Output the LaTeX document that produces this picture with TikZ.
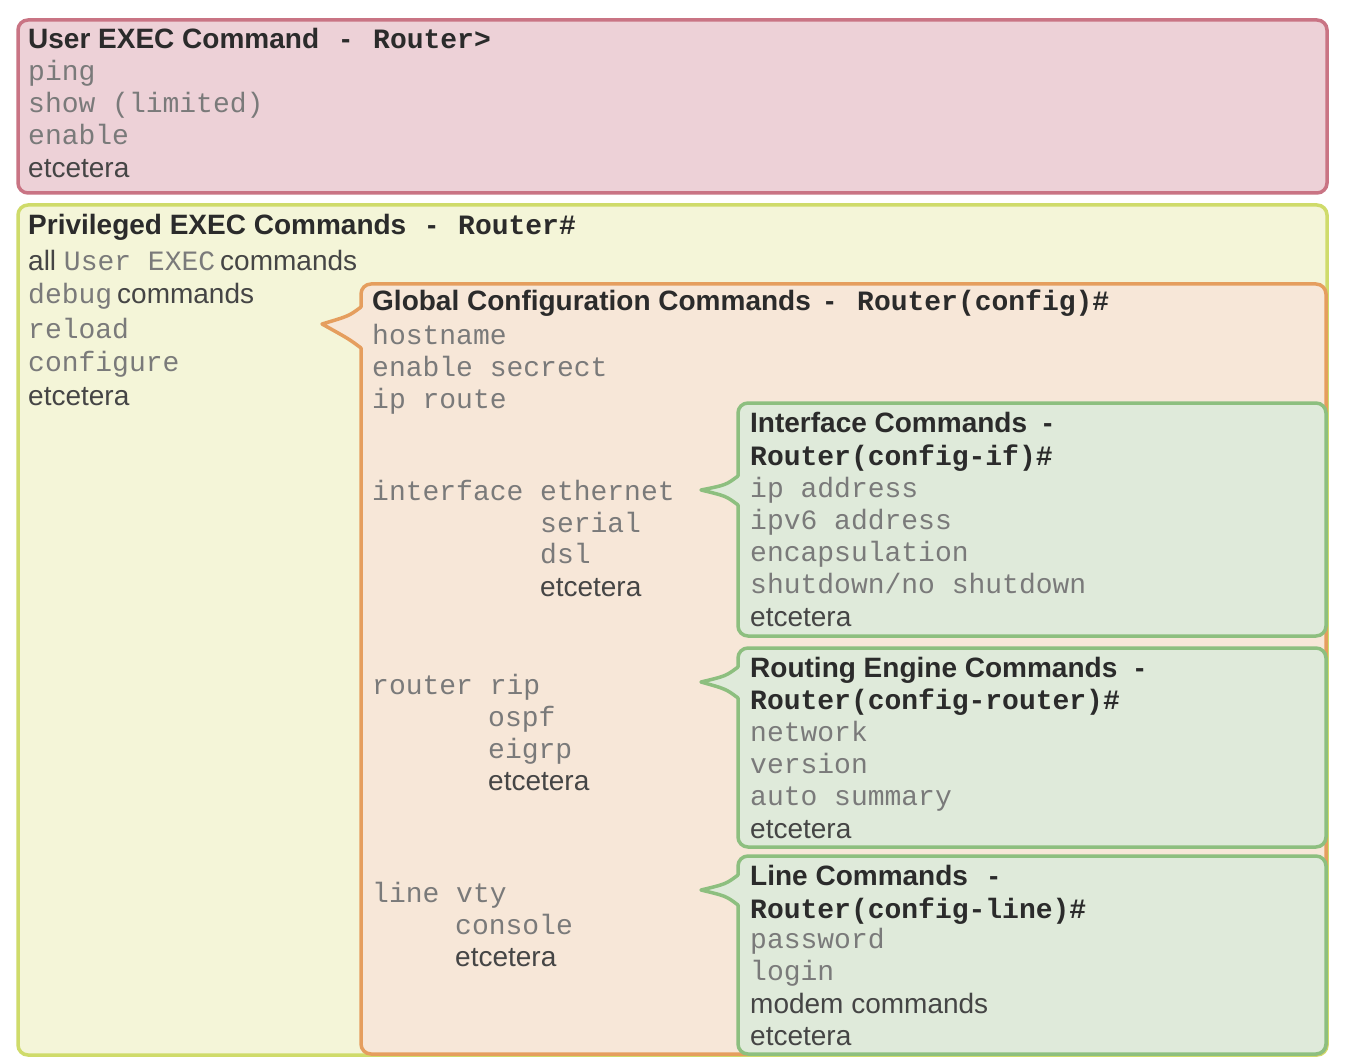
\documentclass[tikz,border=0pt]{standalone}
\usepackage{fontspec}
\setmainfont{Liberation Sans}
\setmonofont{Liberation Mono}
\definecolor{pinkfill}{HTML}{EDD1D7}
\definecolor{pinkdraw}{HTML}{C97484}
\definecolor{yelfill}{HTML}{F4F5D8}
\definecolor{yeldraw}{HTML}{CFDB6A}
\definecolor{orfill}{HTML}{F7E7D8}
\definecolor{ordraw}{HTML}{E59E5E}
\definecolor{grfill}{HTML}{DFEADA}
\definecolor{grdraw}{HTML}{8DBF7F}
\definecolor{hdcol}{HTML}{2B2B2B}
\definecolor{cmcol}{HTML}{7A7A7A}
\definecolor{etcol}{HTML}{454545}
\newcommand\callptr[7]{%
  \fill[#1] (#3+2.5,#4) .. controls (#3-12,#4+9) .. (#6,#7) .. controls (#3-12,#5-9) .. (#3+2.5,#5) -- cycle;
  \draw[#2, line width=3.5, line join=round] (#3,#4) .. controls (#3-12,#4+9) .. (#6,#7) .. controls (#3-12,#5-9) .. (#3,#5);
}
\begin{document}
\begin{tikzpicture}[x=1pt,y=-1pt,
  boxstyle/.style={line width=3.5, rounded corners=10},
  hdtxt/.style={anchor=base west, inner sep=0, font=\fontsize{28}{32}\selectfont\bfseries, text=hdcol},
  rttxt/.style={anchor=base west, inner sep=0, font=\fontsize{28}{32}\selectfont\ttfamily\bfseries, text=hdcol},
  cmtxt/.style={anchor=base west, inner sep=0, font=\fontsize{28}{32}\selectfont\ttfamily, text=cmcol},
  ettxt/.style={anchor=base west, inner sep=0, font=\fontsize{28}{32}\selectfont, text=etcol}]
\useasboundingbox[fill=white] (0,0) rectangle (1348,1064);

% User EXEC box
\draw[boxstyle, fill=pinkfill, draw=pinkdraw] (18,20) rectangle (1327,193);
\node[hdtxt] (u0) at (28,49) {User EXEC Command};
\node[hdtxt] (u0d) at (341,49) {-};
\node[rttxt] (u0r) at (373,49) {Router>};
\node[cmtxt] (u1) at (28,81) {ping};
\node[cmtxt] (u2) at (28,113) {show (limited)};
\node[cmtxt] (u3) at (28,145) {enable};
\node[ettxt] (u4) at (28,178) {etcetera};

% Privileged EXEC box
\draw[boxstyle, fill=yelfill, draw=yeldraw] (18,205) rectangle (1327,1055);
\node[hdtxt] (p0) at (28,235) {Privileged EXEC Commands};
\node[hdtxt] (p0d) at (427,235) {-};
\node[rttxt] (p0r) at (458,235) {Router\#};
\node[ettxt] (p1) at (28,271) {all \texttt{\color{cmcol}User EXEC}\kern5pt commands};
\node[ettxt] (p2) at (28,304) {\texttt{\color{cmcol}debug}\kern5pt commands};
\node[cmtxt] (p3) at (28,338) {reload};
\node[cmtxt] (p4) at (28,371) {configure};
\node[ettxt] (p5) at (28,405) {etcetera};

% Global configuration box
\draw[boxstyle, fill=orfill, draw=ordraw] (361,284) rectangle (1326,1054);
\callptr{orfill}{ordraw}{361}{307}{348}{322}{324}
\node[hdtxt] (g0) at (372,311) {Global Configuration Commands};
\node[hdtxt] (g0d) at (825,311) {-};
\node[rttxt] (g0r) at (857,311) {Router(config)\#};
\node[cmtxt] (g1) at (372,344) {hostname};
\node[cmtxt] (g2) at (372,376) {enable secrect};
\node[cmtxt] (g3) at (372,408) {ip route};
\node[cmtxt] (g4) at (372,500) {interface ethernet};
\node[cmtxt] (g5) at (540,532) {serial};
\node[cmtxt] (g6) at (540,563) {dsl};
\node[ettxt] (g7) at (540,596) {etcetera};
\node[cmtxt] (g8) at (372,694) {router rip};
\node[cmtxt] (g9) at (488,726) {ospf};
\node[cmtxt] (g10) at (488,758) {eigrp};
\node[ettxt] (g11) at (488,790) {etcetera};
\node[cmtxt] (g12) at (372,902) {line vty};
\node[cmtxt] (g13) at (455,934) {console};
\node[ettxt] (g14) at (455,966) {etcetera};

% Interface box
\draw[boxstyle, fill=grfill, draw=grdraw] (738,403) rectangle (1326,636);
\callptr{grfill}{grdraw}{738}{476}{505}{701}{490}
\node[hdtxt] (i0) at (750,432) {Interface Commands};
\node[hdtxt] (i0d) at (1043,432) {-};
\node[rttxt] (i0r) at (750,465) {Router(config-if)\#};
\node[cmtxt] (i1) at (750,497) {ip address};
\node[cmtxt] (i2) at (750,529) {ipv6 address};
\node[cmtxt] (i3) at (750,561) {encapsulation};
\node[cmtxt] (i4) at (750,593) {shutdown/no shutdown};
\node[ettxt] (i5) at (750,626) {etcetera};

% Routing engine box
\draw[boxstyle, fill=grfill, draw=grdraw] (738,648) rectangle (1326,847);
\callptr{grfill}{grdraw}{738}{667}{698}{701}{682}
\node[hdtxt] (r0) at (750,677) {Routing Engine Commands};
\node[hdtxt] (r0d) at (1135,677) {-};
\node[rttxt] (r0r) at (750,709) {Router(config-router)\#};
\node[cmtxt] (r1) at (750,741) {network};
\node[cmtxt] (r2) at (750,773) {version};
\node[cmtxt] (r3) at (750,805) {auto summary};
\node[ettxt] (r4) at (750,838) {etcetera};

% Line box
\draw[boxstyle, fill=grfill, draw=grdraw] (738,856) rectangle (1326,1054);
\callptr{grfill}{grdraw}{738}{875}{905}{701}{890}
\node[hdtxt] (l0) at (750,885) {Line Commands};
\node[hdtxt] (l0d) at (989,885) {-};
\node[rttxt] (l0r) at (750,918) {Router(config-line)\#};
\node[cmtxt] (l1) at (750,948) {password};
\node[cmtxt] (l2) at (750,980) {login};
\node[ettxt] (l3) at (750,1013) {modem commands};
\node[ettxt] (l4) at (750,1045) {etcetera};
\end{tikzpicture}
\end{document}
